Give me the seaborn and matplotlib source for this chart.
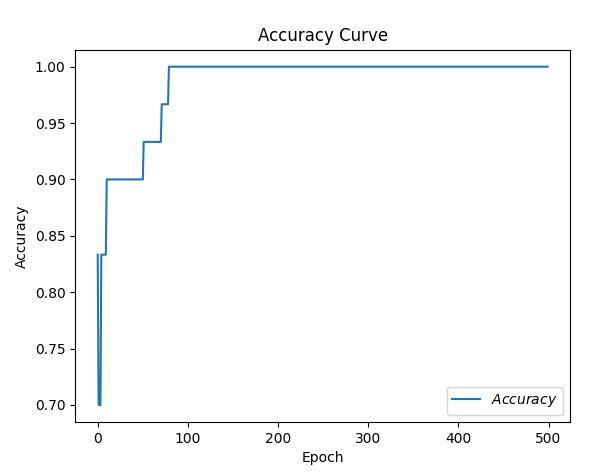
import matplotlib
matplotlib.use("Agg")
import matplotlib.pyplot as plt
import numpy as np
import pandas as pd
import seaborn as sns

# Step segments: start epoch and accuracy held until next start
seg_start = [0, 1, 4, 10, 51, 71, 79]
seg_acc = [0.8333, 0.7, 0.8333, 0.9, 0.9333, 0.9667, 1.0]
n_epochs = 500

lengths = np.diff(seg_start + [n_epochs])
acc = np.repeat(seg_acc, lengths)
df = pd.DataFrame({"Epoch": np.arange(n_epochs), "Accuracy": acc})

fig, ax = plt.subplots(figsize=(5.97, 4.74), dpi=100)
fig.subplots_adjust(left=0.126, right=0.955, bottom=0.11, top=0.895)
sns.lineplot(data=df, x="Epoch", y="Accuracy", ax=ax, color="#1f77b4", label="$Accuracy$")
ax.set_title("Accuracy Curve")
ax.set_xlabel("Epoch")
ax.set_ylabel("Accuracy")
ax.legend(loc="lower right")
plt.savefig("out.png", dpi=100)
